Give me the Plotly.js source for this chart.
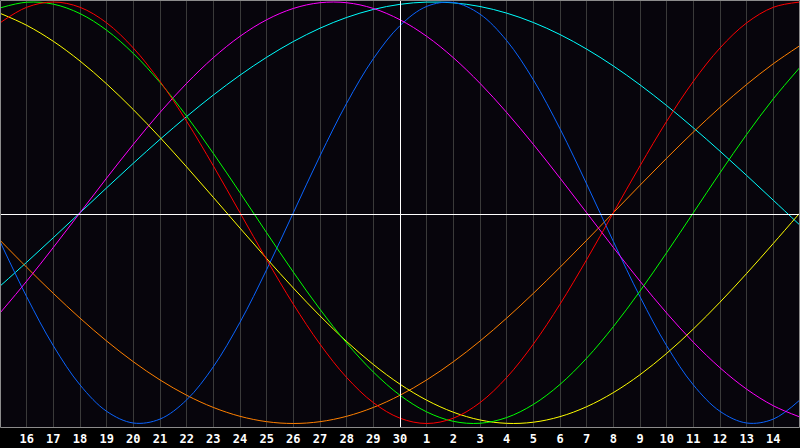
<!DOCTYPE html>
<html>
<head>
<meta charset="utf-8">
<script src="https://cdn.plot.ly/plotly-3.0.1.min.js"></script>
<style>
html,body{margin:0;padding:0;background:#000;}
#chart{width:800px;height:448px;}
</style>
</head>
<body>
<div id="chart"></div>
<script>
// Day labels from left edge (15th) to right edge (15th of next month)
const dayLabels = ["15","16","17","18","19","20","21","22","23","24","25","26","27","28","29","30",
                   "1","2","3","4","5","6","7","8","9","10","11","12","13","14","15"];
// Tick labels shown under the chart (interior days)
const tickLabels = dayLabels.slice(1, 30);

// Cycle values read per day (index 0 = left edge)
const blue23 = [-0.1362,-0.3984,-0.6311,-0.8170,-0.9423,-0.9977,-0.9791,-0.8879,-0.7308,-0.5196,-0.2698,0,0.2698,0.5196,0.7308,0.8879,0.9791,0.9977,0.9423,0.8170,0.6311,0.3984,0.1362,-0.1362,-0.3984,-0.6311,-0.8170,-0.9423,-0.9977,-0.9791,-0.8879];
const red28 = [0.9010,0.9749,1,0.9749,0.9010,0.7818,0.6235,0.4339,0.2225,0,-0.2225,-0.4339,-0.6235,-0.7818,-0.9010,-0.9749,-1,-0.9749,-0.9010,-0.7818,-0.6235,-0.4339,-0.2225,0,0.2225,0.4339,0.6235,0.7818,0.9010,0.9749,1];
const green33 = [0.9718,0.9989,0.9898,0.9450,0.8660,0.7557,0.6182,0.4582,0.2817,0.0951,-0.0951,-0.2817,-0.4582,-0.6182,-0.7557,-0.8660,-0.9450,-0.9898,-0.9989,-0.9718,-0.9096,-0.8146,-0.6901,-0.5406,-0.3717,-0.1893,0,0.1893,0.3717,0.5406,0.6901];
const magenta38 = [-0.4759,-0.3247,-0.1646,0,0.1646,0.3247,0.4759,0.6142,0.7357,0.8372,0.9158,0.9694,0.9966,0.9966,0.9694,0.9158,0.8372,0.7357,0.6142,0.4759,0.3247,0.1646,0,-0.1646,-0.3247,-0.4759,-0.6142,-0.7357,-0.8372,-0.9158,-0.9694];
const yellow43 = [0.9465,0.8894,0.8135,0.7200,0.6112,0.4894,0.3572,0.2174,0.0730,-0.0730,-0.2174,-0.3572,-0.4894,-0.6112,-0.7200,-0.8135,-0.8894,-0.9465,-0.9834,-0.9993,-0.9940,-0.9675,-0.9204,-0.8535,-0.7686,-0.6673,-0.5518,-0.4244,-0.2881,-0.1456,0];
const orange48 = [-0.1305,-0.2588,-0.3827,-0.5,-0.6088,-0.7071,-0.7934,-0.8660,-0.9239,-0.9659,-0.9914,-1,-0.9914,-0.9659,-0.9239,-0.8660,-0.7934,-0.7071,-0.6088,-0.5,-0.3827,-0.2588,-0.1305,0,0.1305,0.2588,0.3827,0.5,0.6088,0.7071,0.7934];
const cyan53 = [-0.3482,-0.2349,-0.1183,0,0.1183,0.2349,0.3482,0.4566,0.5586,0.6528,0.7378,0.8125,0.8757,0.9267,0.9646,0.9890,0.9996,0.9961,0.9786,0.9473,0.9028,0.8456,0.7765,0.6966,0.6068,0.5085,0.4031,0.2921,0.1769,0.0592,-0.0592];

const xIdx = dayLabels.map((d, i) => i);
const tickVals = tickLabels.map((d, i) => i + 1);

const series = [
  {y: cyan53, color: '#00ffff'},
  {y: orange48, color: '#ff8000'},
  {y: blue23, color: '#0a64ff'},
  {y: magenta38, color: '#ff00ff'},
  {y: yellow43, color: '#ffff00'},
  {y: green33, color: '#00ff00'},
  {y: red28, color: '#ff0000'}
];

const traces = series.map(s => ({
  type: 'scatter', mode: 'lines', x: xIdx, y: s.y,
  line: {color: s.color, width: 1, shape: 'spline'},
  hoverinfo: 'skip', showlegend: false
}));

const W = 800, PH = 428;
const layout = {
  width: 800, height: 448,
  margin: {l: 0, r: 0, t: 0, b: 20, pad: 0},
  paper_bgcolor: '#000000',
  plot_bgcolor: '#07050c',
  showlegend: false,
  xaxis: {
    range: [0, 30], fixedrange: true,
    showgrid: true, gridcolor: '#3a3a3a', gridwidth: 1,
    tickmode: 'array', tickvals: tickVals, ticktext: tickLabels,
    ticks: '', showline: false, zeroline: false, ticklabelstandoff: 2,
    tickfont: {family: 'DejaVu Sans Mono', size: 12, color: '#ffffff', weight: 'bold'}
  },
  yaxis: {
    range: [-1.0214, 1.0095], fixedrange: true,
    showgrid: false, zeroline: false, showticklabels: false, ticks: ''
  },
  shapes: [
    {type: 'line', xref: 'paper', yref: 'paper', x0: 0, x1: 1,
     y0: 1 - 214.5 / PH, y1: 1 - 214.5 / PH, line: {color: '#ffffff', width: 1}, layer: 'above'},
    {type: 'line', xref: 'paper', yref: 'paper', x0: 400.5 / W, x1: 400.5 / W,
     y0: 0, y1: 1, line: {color: '#ffffff', width: 1}, layer: 'above'},
    {type: 'rect', xref: 'paper', yref: 'paper', x0: 0.5 / W, x1: 799.5 / W,
     y0: 1 - 427.5 / PH, y1: 1 - 0.5 / PH, line: {color: '#8c8c8c', width: 1}, layer: 'above'}
  ]
};

Plotly.newPlot('chart', traces, layout, {staticPlot: true, displayModeBar: false});
</script>
</body>
</html>
